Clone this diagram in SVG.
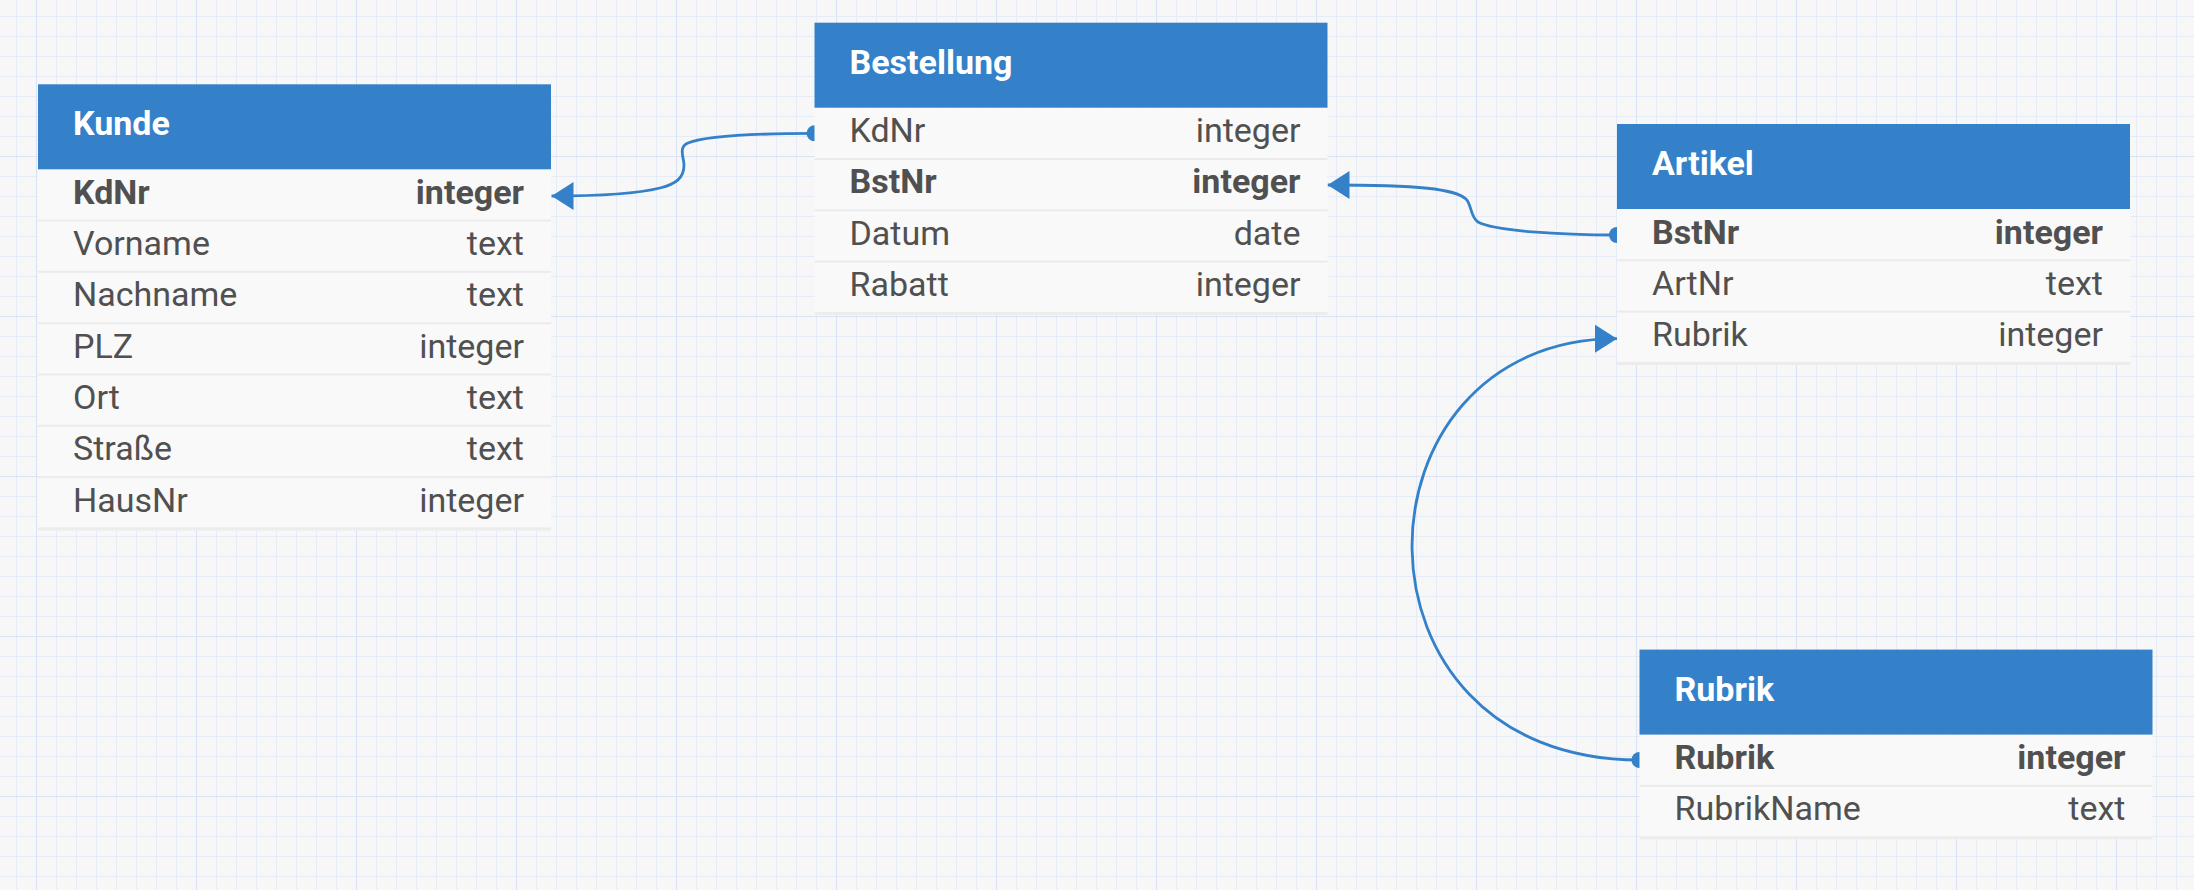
<svg xmlns="http://www.w3.org/2000/svg" width="2194" height="890" viewBox="0 0 2194 890">
<style>
.hdr{fill:#3481C9}
.hdrt{font-family:Roboto,"Liberation Sans",sans-serif;font-size:34px;font-weight:bold;fill:#ffffff}
.row{fill:#F9F9F9}
.sep{fill:#EBEBEB}
.bot{fill:#ECECEC}
.f{font-family:Roboto,"Liberation Sans",sans-serif;font-size:34px;fill:#505050}
.b{font-weight:bold}
.t{text-anchor:end}
.edge{fill:none;stroke:#3481C9;stroke-width:2.8;marker-start:url(#dot);marker-end:url(#arr)}
</style>
<defs>
<pattern id="grid" patternUnits="userSpaceOnUse" x="36" y="-4" width="160" height="160">
<rect width="160" height="160" fill="#F7F7F8"/>
<path d="M20.5,0V160M40.5,0V160M60.5,0V160M80.5,0V160M100.5,0V160M120.5,0V160M140.5,0V160M0,20.5H160M0,40.5H160M0,60.5H160M0,80.5H160M0,100.5H160M0,120.5H160M0,140.5H160" stroke="#E5ECF8" stroke-width="1"/>
<path d="M0.5,0V160M0,0.5H160" stroke="#D8E4F5" stroke-width="1"/>
</pattern>
<marker id="arr" markerUnits="userSpaceOnUse" viewBox="0 0 22 28" refX="22" refY="14" markerWidth="22" markerHeight="28" orient="auto"><path d="M0,0 L22,14 L0,28 z" fill="#3481C9"/></marker>
<marker id="dot" markerUnits="userSpaceOnUse" viewBox="0 0 18 18" refX="9" refY="9" markerWidth="18" markerHeight="18"><circle cx="9" cy="9" r="8" fill="#3481C9"/></marker>
</defs>
<rect width="2194" height="890" fill="url(#grid)"/>

<g id="connectors">
<path class="edge" d="M814.5,133.3 C760,133.5 705,136 688,143 C678,147 684,158 684,165 C684,178 676,184 660,188 C640,193 605,196 551.5,196"/>
<path class="edge" d="M1617,235 C1560,235 1495,231 1478,222 C1470,217 1472,205 1466,199 C1455,189 1420,185 1327.5,185"/>
<path class="edge" d="M1639.5,760 C1335,760 1345,338.7 1617,338.7"/>
</g>

<g id="Kunde" transform="translate(38,84.3)">
<rect class="row" x="0" y="85" width="513" height="359.1"/>
<rect class="sep" x="0" y="135.3" width="513" height="2"/>
<rect class="sep" x="0" y="186.6" width="513" height="2"/>
<rect class="sep" x="0" y="237.9" width="513" height="2"/>
<rect class="sep" x="0" y="289.2" width="513" height="2"/>
<rect class="sep" x="0" y="340.5" width="513" height="2"/>
<rect class="sep" x="0" y="391.8" width="513" height="2"/>
<rect class="bot" x="0" y="443.1" width="513" height="3"/>
<rect class="hdr" x="0" y="0" width="513" height="85"/>
<text class="hdrt" x="35" y="51">Kunde</text>
<text class="f b" x="35" y="119.5">KdNr</text><text class="f b t" x="486" y="119.5">integer</text>
<text class="f" x="35" y="170.8">Vorname</text><text class="f t" x="486" y="170.8">text</text>
<text class="f" x="35" y="222.1">Nachname</text><text class="f t" x="486" y="222.1">text</text>
<text class="f" x="35" y="273.4">PLZ</text><text class="f t" x="486" y="273.4">integer</text>
<text class="f" x="35" y="324.7">Ort</text><text class="f t" x="486" y="324.7">text</text>
<text class="f" x="35" y="376">Straße</text><text class="f t" x="486" y="376">text</text>
<text class="f" x="35" y="427.3">HausNr</text><text class="f t" x="486" y="427.3">integer</text>
</g>

<g id="Bestellung" transform="translate(814.5,22.7)">
<rect class="row" x="0" y="85" width="513" height="205.2"/>
<rect class="sep" x="0" y="135.3" width="513" height="2"/>
<rect class="sep" x="0" y="186.6" width="513" height="2"/>
<rect class="sep" x="0" y="237.9" width="513" height="2"/>
<rect class="bot" x="0" y="289.2" width="513" height="3"/>
<rect class="hdr" x="0" y="0" width="513" height="85"/>
<text class="hdrt" x="35" y="51">Bestellung</text>
<text class="f" x="35" y="119.5">KdNr</text><text class="f t" x="486" y="119.5">integer</text>
<text class="f b" x="35" y="170.8">BstNr</text><text class="f b t" x="486" y="170.8">integer</text>
<text class="f" x="35" y="222.1">Datum</text><text class="f t" x="486" y="222.1">date</text>
<text class="f" x="35" y="273.4">Rabatt</text><text class="f t" x="486" y="273.4">integer</text>
</g>

<g id="Artikel" transform="translate(1617,124)">
<rect class="row" x="0" y="85" width="513" height="153.9"/>
<rect class="sep" x="0" y="135.3" width="513" height="2"/>
<rect class="sep" x="0" y="186.6" width="513" height="2"/>
<rect class="bot" x="0" y="237.9" width="513" height="3"/>
<rect class="hdr" x="0" y="0" width="513" height="85"/>
<text class="hdrt" x="35" y="51">Artikel</text>
<text class="f b" x="35" y="119.5">BstNr</text><text class="f b t" x="486" y="119.5">integer</text>
<text class="f" x="35" y="170.8">ArtNr</text><text class="f t" x="486" y="170.8">text</text>
<text class="f" x="35" y="222.1">Rubrik</text><text class="f t" x="486" y="222.1">integer</text>
</g>

<g id="Rubrik" transform="translate(1639.5,649.6)">
<rect class="row" x="0" y="85" width="513" height="102.6"/>
<rect class="sep" x="0" y="135.3" width="513" height="2"/>
<rect class="bot" x="0" y="186.6" width="513" height="3"/>
<rect class="hdr" x="0" y="0" width="513" height="85"/>
<text class="hdrt" x="35" y="51">Rubrik</text>
<text class="f b" x="35" y="119.5">Rubrik</text><text class="f b t" x="486" y="119.5">integer</text>
<text class="f" x="35" y="170.8">RubrikName</text><text class="f t" x="486" y="170.8">text</text>
</g>
</svg>
